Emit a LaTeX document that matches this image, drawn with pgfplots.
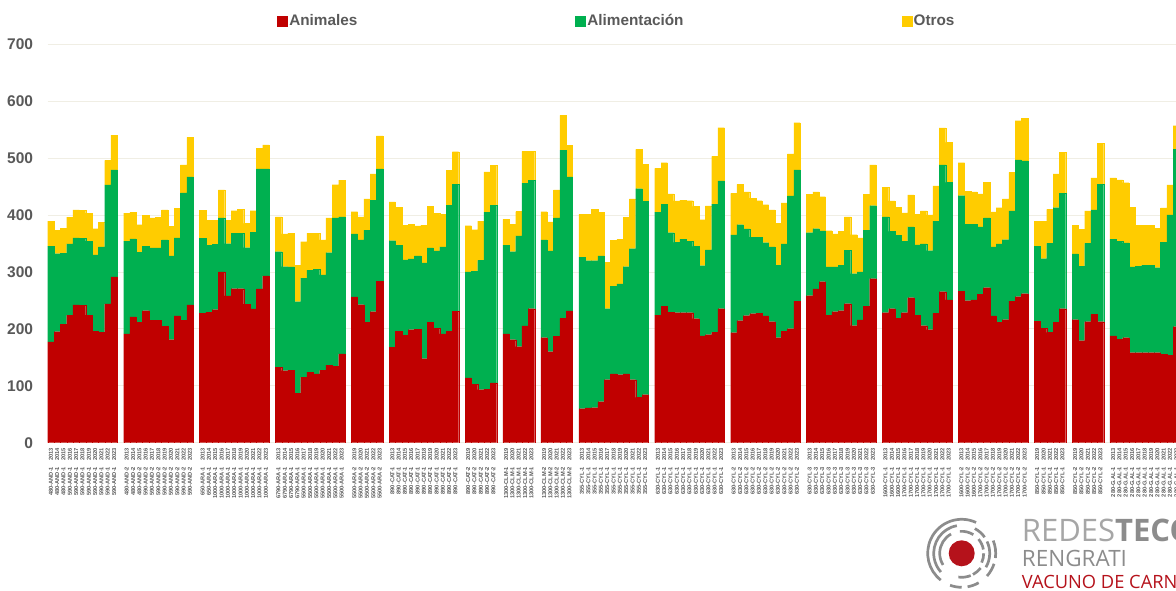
\documentclass[border=0pt]{standalone}
\usepackage{fontspec}
\setmainfont{Liberation Sans}
\newfontfamily\logofont{Open Sans}
\usepackage{pgfplots}
\usepackage{pgfplotstable}
\pgfplotsset{compat=1.18}
\definecolor{animales}{HTML}{C00000}
\definecolor{alimentos}{HTML}{00B050}
\definecolor{otros}{HTML}{FFCC00}
\definecolor{txt}{HTML}{595959}
\definecolor{rejilla}{HTML}{F0EEE4}
\definecolor{logogris}{HTML}{8C8C8C}
\definecolor{logoclaro}{HTML}{A6A6A6}
\definecolor{logorojo}{HTML}{B5121B}

\pgfplotstableread[col sep=comma]{
slot,label,ani,ali,otr
0,480-AND-1~~~~2013,177,168,44
1,480-AND-1~~~~2014,195,137,41.5
2,480-AND-1~~~~2015,208,125,44
3,590-AND-1~~~~2016,224,125,47
4,590-AND-1~~~~2017,242,117.5,49.5
5,590-AND-1~~~~2018,241,118,49
6,590-AND-1~~~~2019,224,130,49
7,590-AND-1~~~~2020,196,134,46
8,590-AND-1~~~~2021,194,150,43
9,590-AND-1~~~~2022,244,208.6,43.4
10,590-AND-1~~~~2023,291,188,61
12,480-AND-2~~~~2013,191,163,49
13,480-AND-2~~~~2014,221,137,47
14,480-AND-2~~~~2015,211,123,49
15,590-AND-2~~~~2016,232,113,54
16,590-AND-2~~~~2017,215,127,53
17,590-AND-2~~~~2018,215,127,54
18,590-AND-2~~~~2019,204,152,53
19,590-AND-2~~~~2020,181,147,52.5
20,590-AND-2~~~~2021,222.5,137,52
21,590-AND-2~~~~2022,215,223.5,49.5
22,590-AND-2~~~~2023,242,225,69
24,650-ARA-1~~~~2013,227,132,49
25,650-ARA-1~~~~2014,229.5,117.5,44
26,1000-ARA-1~~~~2015,233.6,114.4,43
27,1000-ARA-1~~~~2016,300,94.6,49.4
28,1000-ARA-1~~~~2017,258,91.5,41
29,1000-ARA-1~~~~2018,270.5,97.5,39.5
30,1000-ARA-1~~~~2019,270.5,97.5,42.4
31,1000-ARA-1~~~~2020,243.5,99,42.5
32,1000-ARA-1~~~~2021,235,134.5,38
33,1000-ARA-1~~~~2022,270,211,36.5
34,1000-ARA-1~~~~2023,293,188,42
36,6790-ARA-1~~~~2013,132,203.5,60.9
37,6790-ARA-1~~~~2014,126.5,182.5,57.5
38,6790-ARA-1~~~~2015,127,181.6,59.4
39,6790-ARA-1~~~~2016,87,160.7,64.3
40,5500-ARA-1~~~~2017,115,174,64
41,5500-ARA-1~~~~2018,124,179,65
42,5500-ARA-1~~~~2019,121,184,63
43,5500-ARA-1~~~~2020,127,167.5,61.5
44,5500-ARA-1~~~~2021,136.4,197.3,60.9
45,5500-ARA-1~~~~2022,134,260.6,58.4
46,5500-ARA-1~~~~2023,156,240.4,64.6
48,5500-ARA-2~~~~2019,256,110.5,39.2
49,5500-ARA-2~~~~2020,242.4,113.6,40.4
50,5500-ARA-2~~~~2021,211.4,162.1,54.5
51,5500-ARA-2~~~~2022,230,196,46
52,5500-ARA-2~~~~2023,283,198,58
54,890-CAT-1~~~~2013,167.4,187.4,67.9
55,890-CAT-1~~~~2014,196,151,66
56,890-CAT-1~~~~2015,189,132,61
57,890-CAT-1~~~~2016,198.5,124.5,60.5
58,890-CAT-1~~~~2017,199.6,128.4,52.6
59,890-CAT-1~~~~2018,147.5,168.5,66
60,890-CAT-1~~~~2019,211.4,130.6,73
61,890-CAT-1~~~~2020,201.4,135.3,66.3
62,890-CAT-1~~~~2021,191,152.7,57.3
63,890-CAT-1~~~~2022,196,221.4,60.6
64,890-CAT-1~~~~2023,231,223.3,56.7
66,890-CAT-2~~~~2019,114,186,81
67,890-CAT-2~~~~2020,103,198,73
68,890-CAT-2~~~~2021,93,227,69
69,890-CAT-2~~~~2022,93.7,311.3,70.4
70,890-CAT-2~~~~2023,105,312.4,69.6
72,1300-CLM-1~~~~2019,191,156,45
73,1300-CLM-1~~~~2020,181,154.5,48
74,1300-CLM-1~~~~2021,168.6,194.4,43
75,1300-CLM-1~~~~2022,205,251,55.7
76,1300-CLM-1~~~~2023,235.4,225.6,50.7
78,1300-CLM-2~~~~2019,184.4,171.6,49.7
79,1300-CLM-2~~~~2020,160,176.7,50.9
80,1300-CLM-2~~~~2021,186.8,208.2,48.8
81,1300-CLM-2~~~~2022,218.4,295.6,61
82,1300-CLM-2~~~~2023,231.3,235.7,55
84,355-CYL-1~~~~2013,59.7,266.3,75
85,355-CYL-1~~~~2014,61,258.7,81.3
86,355-CYL-1~~~~2015,61.5,258.2,90.3
87,355-CYL-1~~~~2016,72,256,76.6
88,355-CYL-1~~~~2017,110.7,124.7,81.3
89,355-CYL-1~~~~2018,121,154,80.4
90,355-CYL-1~~~~2019,119.4,159.3,78.3
91,355-CYL-1~~~~2020,121,188,86.8
92,355-CYL-1~~~~2021,110.7,230,87.3
93,355-CYL-1~~~~2022,79.6,366.4,69
94,355-CYL-1~~~~2023,84.3,339.7,65
96,630-CYL-1~~~~2013,224,181,76.9
97,630-CYL-1~~~~2014,239.5,179.1,73.2
98,630-CYL-1~~~~2015,229,139.9,67.9
99,630-CYL-1~~~~2016,228.3,123.6,72.6
100,630-CYL-1~~~~2017,228.3,129.4,68.5
101,630-CYL-1~~~~2018,228.3,125.9,70.8
102,630-CYL-1~~~~2019,217.8,127,70.2
103,630-CYL-1~~~~2020,187.4,123.6,80.7
104,630-CYL-1~~~~2021,189.7,148.7,77.3
105,630-CYL-1~~~~2022,193.8,225.2,84
106,630-CYL-1~~~~2023,235.4,224.2,93.7
108,630-CYL-2~~~~2013,193.2,171.6,73.2
109,630-CYL-2~~~~2014,214.3,168.6,70.8
110,630-CYL-2~~~~2015,223,152.3,65
111,630-CYL-2~~~~2016,226.6,134.6,68.5
112,630-CYL-2~~~~2017,227.2,134,63.8
113,630-CYL-2~~~~2018,222.5,128.8,66.6
114,630-CYL-2~~~~2019,212.5,131.2,65
115,630-CYL-2~~~~2020,184.4,127.1,74.3
116,630-CYL-2~~~~2021,196,153,72
117,630-CYL-2~~~~2022,200.2,233.1,73.7
118,630-CYL-2~~~~2023,248.8,230.2,83
120,630-CYL-3~~~~2013,258.2,110.7,67.3
121,630-CYL-3~~~~2014,270,105.9,64.4
122,630-CYL-3~~~~2015,282.8,89,60.2
123,630-CYL-3~~~~2016,224.2,84.4,63.8
124,630-CYL-3~~~~2017,230,78.6,57.9
125,630-CYL-3~~~~2018,231.9,79.6,59.7
126,630-CYL-3~~~~2019,244.1,93.7,58.6
127,630-CYL-3~~~~2020,205.5,91.3,68.5
128,630-CYL-3~~~~2021,215.5,84.3,59.7
129,630-CYL-3~~~~2022,239.5,134,62.7
130,630-CYL-3~~~~2023,288,128.3,71.4
132,1600-CYL-1~~~~2013,228.3,168.1,52.1
133,1600-CYL-1~~~~2014,235.4,135.8,53.3
134,1600-CYL-1~~~~2015,218.4,145.8,49.1
135,1700-CYL-1~~~~2016,228.3,125.9,49.2
136,1700-CYL-1~~~~2017,254.7,124.1,56.2
137,1700-CYL-1~~~~2018,224.2,123,53.8
138,1700-CYL-1~~~~2019,205.5,143.5,57.9
139,1700-CYL-1~~~~2020,198.5,138.7,62.7
140,1700-CYL-1~~~~2021,227.2,162.1,61.5
141,1700-CYL-1~~~~2022,265.2,222.5,65
142,1700-CYL-1~~~~2023,250.6,206.7,70.2
144,1600-CYL-2~~~~2013,265.8,168,58
145,1600-CYL-2~~~~2014,249.4,134.6,57.5
146,1600-CYL-2~~~~2015,250.6,133.4,56.3
147,1700-CYL-2~~~~2016,261.1,117.7,58
148,1700-CYL-2~~~~2017,272.2,122.4,63.2
149,1700-CYL-2~~~~2018,222.5,121.2,61.5
150,1700-CYL-2~~~~2019,211.4,137.6,63.8
151,1700-CYL-2~~~~2020,216,140.6,71.4
152,1700-CYL-2~~~~2021,248.8,158.1,67.9
153,1700-CYL-2~~~~2022,256.4,240.1,69.1
154,1700-CYL-2~~~~2023,261.7,233,75
156,850-CYL-1~~~~2019,213.1,131.7,44.5
157,850-CYL-1~~~~2020,201.4,121.8,66.1
158,850-CYL-1~~~~2021,193.8,156.3,59.7
159,850-CYL-1~~~~2022,211.4,201.4,59.1
160,850-CYL-1~~~~2023,235.4,202.5,72.1
162,850-CYL-2~~~~2019,216,115.4,50.3
163,850-CYL-2~~~~2020,179.2,131.1,64.4
164,850-CYL-2~~~~2021,212.5,137.6,56.8
165,850-CYL-2~~~~2022,225.4,183.3,56.4
166,850-CYL-2~~~~2023,212.5,241.8,71.5
168,280-G.AL-1~~~~2013,187.4,170.3,107.2
169,280-G.AL-1~~~~2014,181.5,172.7,107.2
170,280-G.AL-1~~~~2015,184.4,166.3,106
171,280-G.AL-1~~~~2016,158.1,150.5,105.3
172,280-G.AL-1~~~~2017,158.1,152.2,71.4
173,280-G.AL-1~~~~2018,158.1,153.9,69.7
174,280-G.AL-1~~~~2019,158.1,153.9,69.7
175,280-G.AL-1~~~~2020,158.1,149.3,69.6
176,280-G.AL-1~~~~2021,155.2,196.7,60.3
177,280-G.AL-1~~~~2022,154,245.9,52.7
178,280-G.AL-1~~~~2023,203.7,311.5,41.6
}\datos

% logo arcs: radius, start angle, end angle
\newcommand{\logoarc}[3]{\draw[logogris,line width=2.7pt] (961.7pt,37.7pt) ++(#2:#1pt) arc (#2:#3:#1pt);}

\begin{document}
\begin{tikzpicture}[x=1pt,y=1pt]
\useasboundingbox (0,0) rectangle (1176,591);
\begin{axis}[
    at={(47.7pt,148.3pt)}, anchor=south west,
    scale only axis,
    width=1131.8pt, height=398.6pt,
    ybar stacked,
    bar width=6.323pt,
    xmin=-0.5, xmax=178.5,
    ymin=0, ymax=700,
    ytick={0,100,...,700},
    xtick=data,
    xticklabels from table={\datos}{label},
    major tick length=0pt,
    axis line style={draw=none},
    ymajorgrids,
    grid style={color=rejilla, line width=0.7pt},
    /pgf/number format/assume math mode=true,
    yticklabel style={font=\bfseries\fontsize{15.5}{16}\selectfont, text=txt, inner sep=0pt, xshift=-14.5pt},
    xticklabel style={rotate=90, anchor=east, font=\bfseries\fontsize{5.7}{6}\selectfont, text=txt, inner sep=0pt, xshift=-5pt},
    legend columns=3,
    legend style={at={(0.2026,1.059)}, anchor=west, draw=none, fill=none, inner sep=0pt,
        font=\bfseries\fontsize{15.3}{16}\selectfont, text=txt,
        /tikz/every even column/.append style={column sep=216pt}},
    legend image code/.code={\fill[#1] (0pt,-5pt) rectangle (10pt,5pt);},
]
\addplot[fill=animales, draw=animales, line width=0.1pt] table[x=slot, y=ani] {\datos};
\addlegendentry{Animales}
\addplot[fill=alimentos, draw=alimentos, line width=0.1pt] table[x=slot, y=ali] {\datos};
\addlegendentry{Alimentación}
\addplot[fill=otros, draw=otros, line width=0.1pt] table[x=slot, y=otr] {\datos};
\addlegendentry{Otros}
\end{axis}

% logo
\logoarc{34}{65}{232}
\logoarc{34}{-8}{22}
\logoarc{34}{-42}{-18}
\logoarc{34}{250}{270}
\logoarc{34}{280}{300}
\logoarc{28}{100}{222}
\logoarc{28}{35}{62}
\logoarc{28}{-30}{25}
\logoarc{22}{119}{212}
\logoarc{22}{58}{95}
\logoarc{22}{10}{40}
\logoarc{22}{-25}{0}
\logoarc{24}{262}{292}
\logoarc{24}{-62}{-38}
\fill[logorojo] (961.7,37.7) circle (13);
\begin{scope}
\clip (0,0) rectangle (1176,591);
\node[anchor=base west, inner sep=0pt, text=logoclaro, font=\logofont\fontsize{31}{32}\selectfont] at (1021.7,49.3) {REDES\textcolor{logogris}{\textbf{TECO}}};
\node[anchor=base west, inner sep=0pt, text=logogris, font=\logofont\fontsize{22.5}{23}\selectfont] at (1021.7,24.3) {RENGRATI};
\node[anchor=base west, inner sep=0pt, text=logorojo, font=\logofont\fontsize{18.3}{19}\selectfont] at (1021.7,2) {VACUNO DE CARNE};
\end{scope}
\end{tikzpicture}
\end{document}
